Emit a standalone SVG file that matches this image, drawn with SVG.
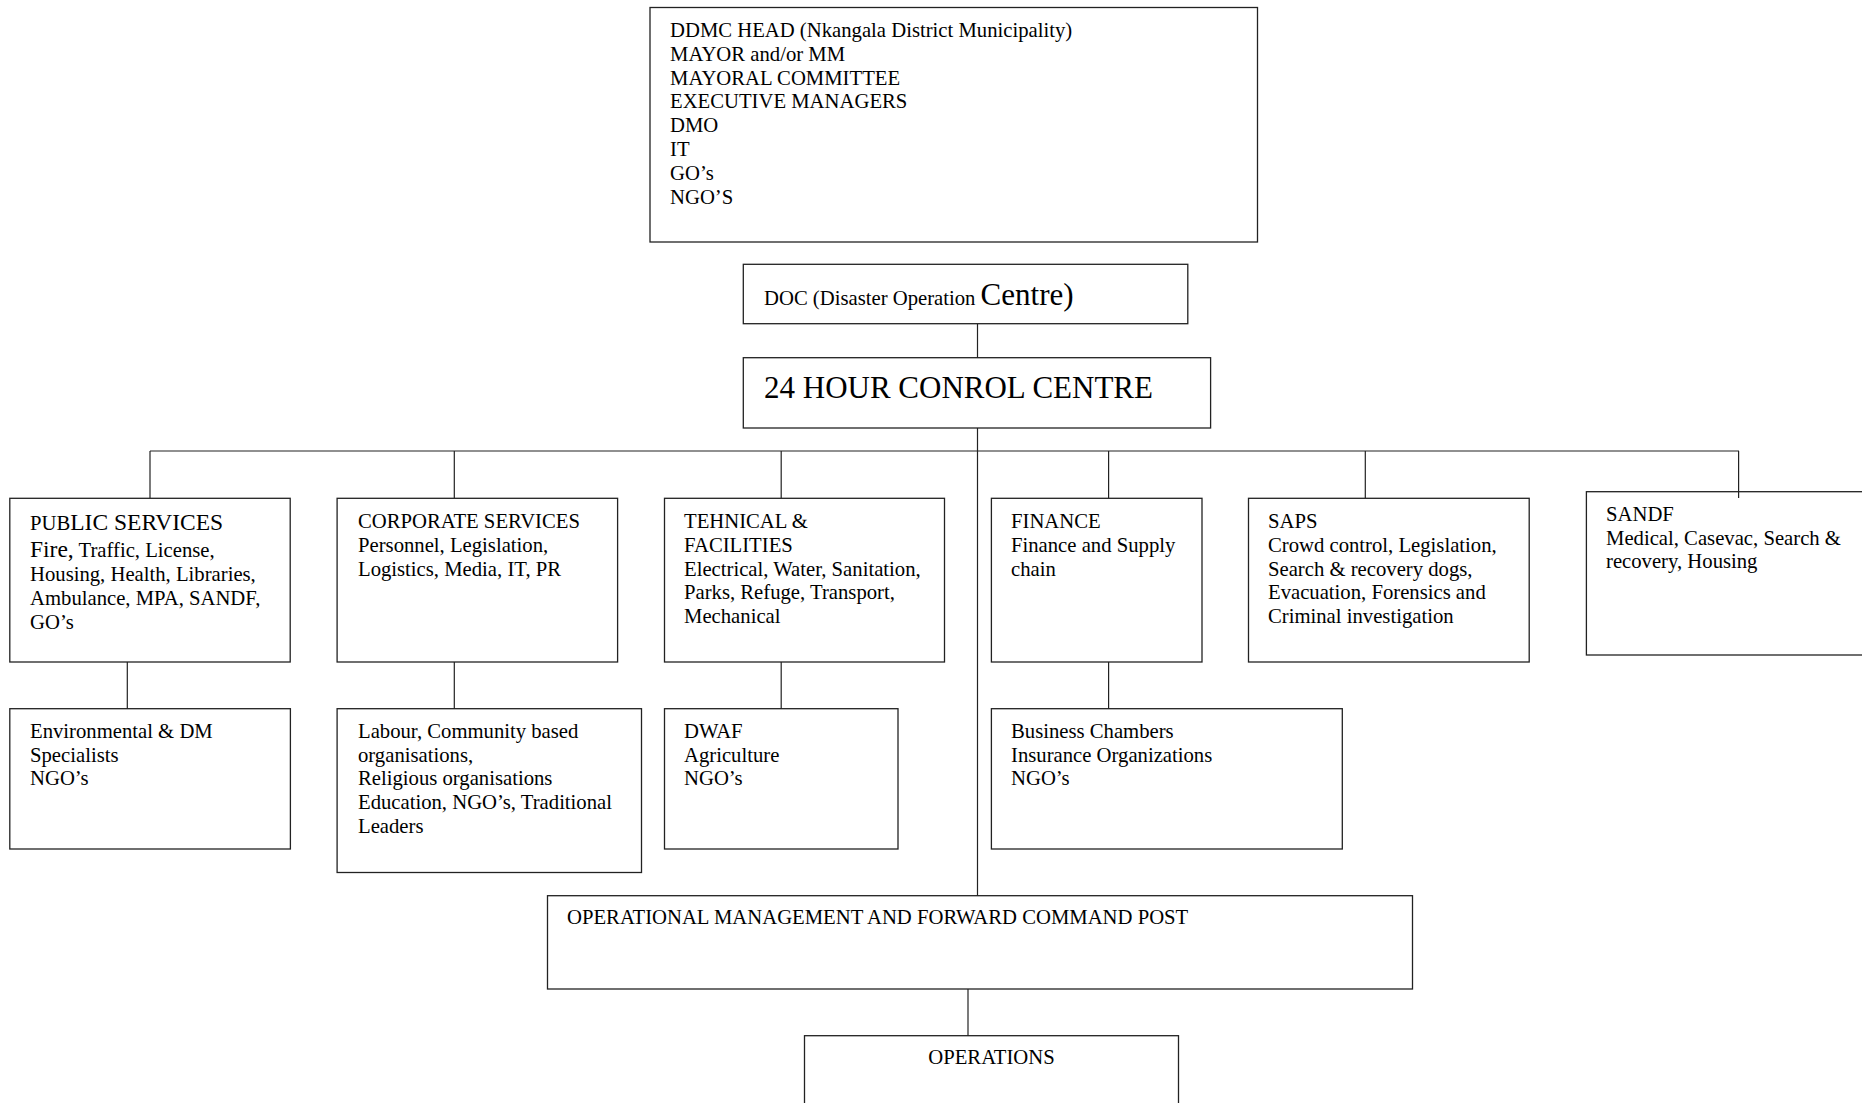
<svg xmlns="http://www.w3.org/2000/svg" width="1862" height="1103" viewBox="0 0 1862 1103">
<style>
rect.box{fill:#fff;stroke:#222;stroke-width:1.3}
.conn line{stroke:#222;stroke-width:1.2}
text{font-family:"Liberation Serif","Times New Roman",serif;font-size:20.7px;fill:#000}
.big{font-size:23.5px}
.huge{font-size:31px}
</style>
<rect width="1862" height="1103" fill="#fff"/>
<g id="ddmc">
<rect class="box" x="650" y="7.5" width="607.5" height="234.5"/>
<text x="670" y="37">DDMC HEAD (Nkangala District Municipality)</text>
<text x="670" y="60.8">MAYOR and/or MM</text>
<text x="670" y="84.6">MAYORAL COMMITTEE</text>
<text x="670" y="108.4">EXECUTIVE MANAGERS</text>
<text x="670" y="132.2">DMO</text>
<text x="670" y="156">IT</text>
<text x="670" y="179.8">GO’s</text>
<text x="670" y="203.6">NGO’S</text>
</g>
<g id="doc">
<rect class="box" x="743.3" y="264.3" width="444.5" height="59.4"/>
<text x="764" y="305">DOC (Disaster Operation <tspan class="huge">Centre)</tspan></text>
</g>
<g id="control">
<rect class="box" x="743.3" y="357.7" width="467.3" height="70.3"/>
<text class="huge" x="764" y="398.3">24 HOUR CONROL CENTRE</text>
</g>
<g id="public">
<rect class="box" x="9.8" y="498.3" width="280.4" height="163.7"/>
<text x="30" y="530">PUB<tspan class="big">LIC SERVICES</tspan></text>
<text x="30" y="556.7"><tspan class="big">Fire,</tspan> Traffic, License,</text>
<text x="30" y="581.2">Housing, Health, Libraries,</text>
<text x="30" y="605">Ambulance, MPA, SANDF,</text>
<text x="30" y="628.5">GO’s</text>
</g>
<g id="corporate">
<rect class="box" x="337.1" y="498.3" width="280.5" height="163.7"/>
<text x="358" y="528.3">CORPORATE SERVICES</text>
<text x="358" y="551.9">Personnel, Legislation,</text>
<text x="358" y="575.5">Logistics, Media, IT, PR</text>
</g>
<g id="technical">
<rect class="box" x="664.5" y="498.3" width="280" height="163.7"/>
<text x="684" y="528.3">TEHNICAL &amp;</text>
<text x="684" y="551.9">FACILITIES</text>
<text x="684" y="575.5">Electrical, Water, Sanitation,</text>
<text x="684" y="599.1">Parks, Refuge, Transport,</text>
<text x="684" y="622.7">Mechanical</text>
</g>
<g id="finance">
<rect class="box" x="991.4" y="498.3" width="210.6" height="163.7"/>
<text x="1011" y="528.3">FINANCE</text>
<text x="1011" y="551.9">Finance and Supply</text>
<text x="1011" y="575.5">chain</text>
</g>
<g id="saps">
<rect class="box" x="1248.5" y="498.3" width="280.7" height="163.7"/>
<text x="1268" y="528.3">SAPS</text>
<text x="1268" y="551.9">Crowd control, Legislation,</text>
<text x="1268" y="575.5">Search &amp; recovery dogs,</text>
<text x="1268" y="599.1">Evacuation, Forensics and</text>
<text x="1268" y="622.7">Criminal investigation</text>
</g>
<g id="sandf">
<rect class="box" x="1586.4" y="491.7" width="290" height="163.3"/>
<text x="1606" y="521">SANDF</text>
<text x="1606" y="544.6">Medical, Casevac, Search &amp;</text>
<text x="1606" y="568.2">recovery, Housing</text>
</g>
<g id="environmental">
<rect class="box" x="9.8" y="708.7" width="280.6" height="140.3"/>
<text x="30" y="737.7">Environmental &amp; DM</text>
<text x="30" y="761.5">Specialists</text>
<text x="30" y="785.3">NGO’s</text>
</g>
<g id="labour">
<rect class="box" x="337.1" y="708.7" width="304.4" height="163.8"/>
<text x="358" y="737.7">Labour, Community based</text>
<text x="358" y="761.5">organisations,</text>
<text x="358" y="785.3">Religious organisations</text>
<text x="358" y="808.6">Education, NGO’s, Traditional</text>
<text x="358" y="833.3">Leaders</text>
</g>
<g id="dwaf">
<rect class="box" x="664.5" y="708.7" width="233.5" height="140.3"/>
<text x="684" y="737.7">DWAF</text>
<text x="684" y="761.5">Agriculture</text>
<text x="684" y="785.3">NGO’s</text>
</g>
<g id="business">
<rect class="box" x="991.4" y="708.7" width="350.9" height="140.3"/>
<text x="1011" y="737.7">Business Chambers</text>
<text x="1011" y="761.5">Insurance Organizations</text>
<text x="1011" y="785.3">NGO’s</text>
</g>
<g id="operational">
<rect class="box" x="547.5" y="895.7" width="865" height="93.3"/>
<text x="567" y="924">OPERATIONAL MANAGEMENT AND FORWARD COMMAND POST</text>
</g>
<g id="operations">
<rect class="box" x="804.5" y="1035.7" width="374" height="90"/>
<text x="991.5" y="1064" text-anchor="middle">OPERATIONS</text>
</g>
<g id="connectors" class="conn">
<line x1="977.5" y1="324" x2="977.5" y2="358"/>
<line x1="977.5" y1="428" x2="977.5" y2="896"/>
<line x1="150" y1="451" x2="1739" y2="451"/>
<line x1="150" y1="451" x2="150" y2="498"/>
<line x1="454.3" y1="451" x2="454.3" y2="498"/>
<line x1="781.2" y1="451" x2="781.2" y2="498"/>
<line x1="1108.6" y1="451" x2="1108.6" y2="498"/>
<line x1="1365.3" y1="451" x2="1365.3" y2="498"/>
<line x1="1738.6" y1="451" x2="1738.6" y2="498"/>
<line x1="127.3" y1="662" x2="127.3" y2="709"/>
<line x1="454.3" y1="662" x2="454.3" y2="709"/>
<line x1="781.2" y1="662" x2="781.2" y2="709"/>
<line x1="1108.6" y1="662" x2="1108.6" y2="709"/>
<line x1="968" y1="989" x2="968" y2="1036"/>
</g>
</svg>
